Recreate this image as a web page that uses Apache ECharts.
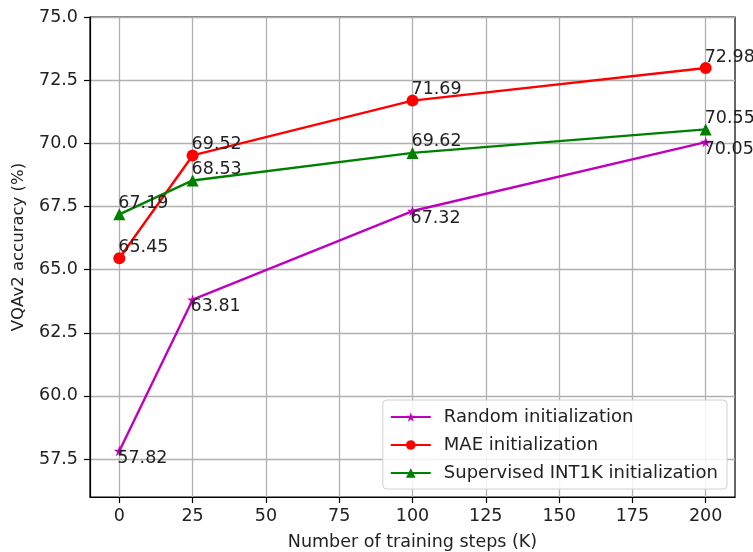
<!DOCTYPE html>
<html>
<head>
<meta charset="utf-8">
<script src="https://cdn.jsdelivr.net/npm/echarts@6/dist/echarts.min.js"></script>
<style>
  html, body { margin: 0; padding: 0; background: #fff; }
  #chart { width: 753px; height: 552px; }
</style>
</head>
<body>
<div id="chart"></div>
<script>
// 数据
var steps = [0, 25, 100, 200];
var randomAcc = [57.82, 63.81, 67.32, 70.05];
var maeAcc = [65.45, 69.52, 71.69, 72.98];
var supAcc = [67.19, 68.53, 69.62, 70.55];
var xTicks = [0, 25, 50, 75, 100, 125, 150, 175, 200];
var yTicks = [57.5, 60, 62.5, 65, 67.5, 70, 72.5, 75];

var FONT = 'DejaVu Sans';
var starPath = 'path://M0,-1 L0.2245,-0.309 L0.951,-0.309 L0.363,0.118 L0.588,0.809 L0,0.382 L-0.588,0.809 L-0.363,0.118 L-0.951,-0.309 L-0.2245,-0.309 Z';

function pairs(ys) {
  return steps.map(function (x, i) { return [x, ys[i]]; });
}

// 数据标签: 上方 / 下方
function labelAbove() {
  return {
    show: true, position: ['50%', '50%'], offset: [-1, -2],
    align: 'left', verticalAlign: 'bottom',
    color: '#222', fontSize: 17.5, fontFamily: FONT,
    formatter: function (p) { return p.value[1].toFixed(2); }
  };
}
function labelBelow() {
  return {
    show: true, position: ['50%', '50%'], offset: [-2, -2],
    align: 'left', verticalAlign: 'top',
    color: '#222', fontSize: 17.5, fontFamily: FONT,
    formatter: function (p) { return p.value[1].toFixed(2); }
  };
}

var chart = echarts.init(document.getElementById('chart'), null, { renderer: 'canvas' });
var option = {
  animation: false,
  textStyle: { fontFamily: FONT },
  grid: {
    left: 90, right: 18, top: 17, bottom: 55,
    outerBoundsMode: 'none', containLabel: false,
    show: true, borderColor: '#000', borderWidth: 1.2
  },
  // 图例
  legend: {
    right: 26, bottom: 63,
    orient: 'vertical',
    itemWidth: 40, itemHeight: 12, itemGap: 10,
    padding: [8, 9, 7, 7],
    borderColor: '#d0d0d0', borderWidth: 1, borderRadius: 4,
    backgroundColor: 'rgba(255,255,255,0.85)',
    textStyle: { fontSize: 18, color: '#222', fontFamily: FONT, padding: [0, 0, 0, 8] },
    data: ['Random initialization', 'MAE initialization', 'Supervised INT1K initialization']
  },
  // x轴
  xAxis: {
    type: 'value', min: -10, max: 210,
    name: 'Number of training steps (K)', nameLocation: 'middle', nameGap: 36,
    nameTextStyle: { fontSize: 17.5, color: '#222', fontFamily: FONT },
    axisLine: { show: true, onZero: false, lineStyle: { color: '#000', width: 1.2 } },
    axisTick: { show: true, length: 6, customValues: xTicks, lineStyle: { color: '#000', width: 1.2 } },
    axisLabel: { customValues: xTicks, margin: 10, fontSize: 17.5, color: '#222', fontFamily: FONT },
    splitLine: { show: true, lineStyle: { color: '#b0b0b0', width: 1.3 } }
  },
  // y轴
  yAxis: {
    type: 'value', min: 56, max: 75,
    name: 'VQAv2 accuracy (%)', nameLocation: 'middle', nameGap: 63,
    nameTextStyle: { fontSize: 16.5, color: '#222', fontFamily: FONT, padding: [0, 0, 0, 20] },
    axisLine: { show: true, onZero: false, lineStyle: { color: '#000', width: 1.2 } },
    axisTick: { show: true, length: 6, customValues: yTicks, lineStyle: { color: '#000', width: 1.2 } },
    axisLabel: {
      customValues: yTicks, margin: 12, fontSize: 17.5, color: '#222', fontFamily: FONT,
      formatter: function (v) { return v.toFixed(1); }
    },
    splitLine: { show: true, lineStyle: { color: '#b0b0b0', width: 1.3 } }
  },
  series: [
    {
      name: 'Random initialization', type: 'line', data: pairs(randomAcc),
      symbol: starPath, symbolKeepAspect: true, symbolSize: 11,
      itemStyle: { color: '#bf00bf' }, lineStyle: { color: '#bf00bf', width: 2.4 },
      label: labelBelow(), z: 2
    },
    {
      name: 'MAE initialization', type: 'line', data: pairs(maeAcc),
      symbol: 'circle', symbolSize: 12,
      itemStyle: { color: '#ff0000' }, lineStyle: { color: '#ff0000', width: 2.4 },
      label: labelAbove(), z: 3
    },
    {
      name: 'Supervised INT1K initialization', type: 'line', data: pairs(supAcc),
      symbol: 'triangle', symbolSize: 12,
      itemStyle: { color: '#008000' }, lineStyle: { color: '#008000', width: 2.4 },
      label: labelAbove(), z: 4
    }
  ]
};
chart.setOption(option);
</script>
</body>
</html>
